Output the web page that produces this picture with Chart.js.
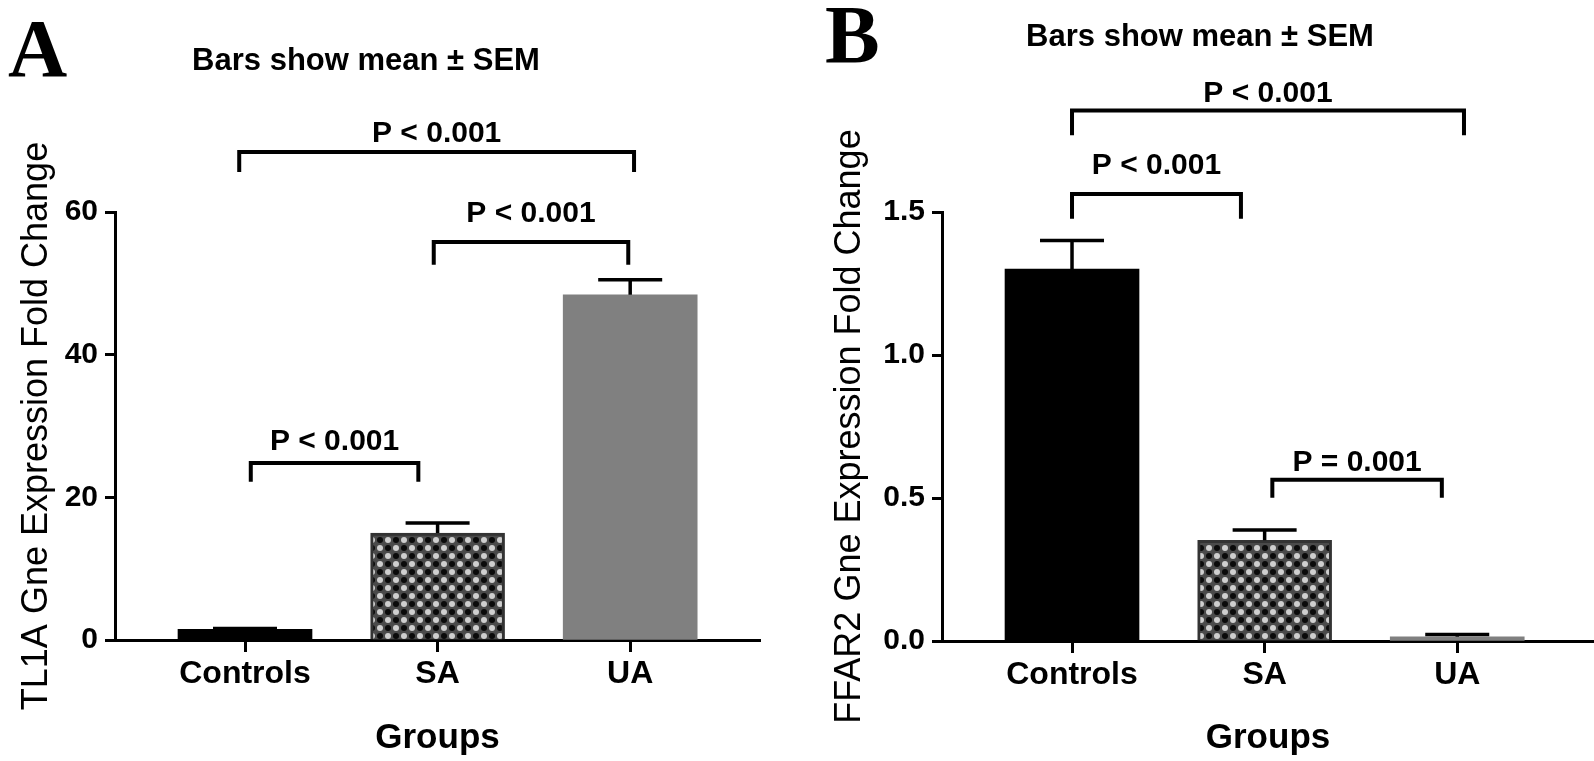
<!DOCTYPE html>
<html>
<head>
<meta charset="utf-8">
<script src="https://cdn.jsdelivr.net/npm/chart.js@4.4.1/dist/chart.umd.min.js"></script>
<style>
  html, body { margin: 0; padding: 0; background: #fff; }
  .wrap { position: relative; width: 1594px; height: 761px; }
  .panel { position: absolute; top: 0; width: 797px; height: 761px; }
  #panelA { left: 0; }
  #panelB { left: 797px; }
</style>
</head>
<body>
<div class="wrap">
  <div class="panel" id="panelA"><canvas id="chartA" width="797" height="761"></canvas></div>
  <div class="panel" id="panelB"><canvas id="chartB" width="797" height="761"></canvas></div>
</div>
<script>
// Two GraphPad-style bar panels (mean ± SEM) with significance brackets.
const groups = ['Controls', 'SA', 'UA'];

// Panel A: TL1A
const tl1aMean = [1.5, 15.0, 48.4];
const tl1aSem = [0.1, 1.4, 2.1];
const tl1aTicks = [0, 20, 40, 60];
// brackets, in group index / value units: ends, bar height, leg ends, label baseline
const tl1aBrFrom = [-0.03, 0.98, 0.03];
const tl1aBrTo = [2.02, 1.99, 0.90];
const tl1aBrTop = [68.4, 55.8, 24.8];
const tl1aBrLeg = [65.6, 52.6, 22.2];
const tl1aBrText = [69.8, 58.6, 26.6];
const tl1aBrLabel = ['P < 0.001', 'P < 0.001', 'P < 0.001'];

// Panel B: FFAR2
const ffar2Mean = [1.30, 0.352, 0.015];
const ffar2Sem = [0.10, 0.036, 0.008];
const ffar2Ticks = [0, 0.5, 1.0, 1.5];
const ffar2BrFrom = [0.0, 0.0, 1.04];
const ffar2BrTo = [2.035, 0.877, 1.92];
const ffar2BrTop = [1.855, 1.563, 0.564];
const ffar2BrLeg = [1.768, 1.476, 0.501];
const ffar2BrText = [1.883, 1.632, 0.595];
const ffar2BrLabel = ['P < 0.001', 'P < 0.001', 'P = 0.001'];

const SANS = "'Liberation Sans', Arial, sans-serif";
const SERIF = "'Liberation Serif', 'Times New Roman', serif";

// checkered fill of the SA bars: black and light dots on dark grey
function checker() {
  const c = document.createElement('canvas');
  c.width = c.height = 16;
  const g = c.getContext('2d');
  g.fillStyle = '#4a4a4a';
  g.fillRect(0, 0, 16, 16);
  const dot = (x, y, col) => { g.fillStyle = col; g.beginPath(); g.arc(x, y, 3, 0, Math.PI * 2); g.fill(); };
  dot(4, 4, '#0a0a0a'); dot(12, 12, '#0a0a0a');
  dot(12, 4, '#cfcfcf'); dot(4, 12, '#cfcfcf');
  return g.createPattern(c, 'repeat');
}

// error bars, brackets, panel letter and subtitle
const annotate = {
  id: 'annotate',
  afterDatasetsDraw(chart, args, o) {
    const { ctx } = chart;
    const xs = chart.scales.x, ys = chart.scales.y;
    ctx.save();
    ctx.strokeStyle = '#000';
    ctx.lineWidth = 3.5;
    o.mean.forEach((m, i) => {
      const x = xs.getPixelForValue(i);
      const yb = ys.getPixelForValue(m);
      const yt = ys.getPixelForValue(m + o.sem[i]);
      ctx.beginPath();
      ctx.moveTo(x, yb); ctx.lineTo(x, yt);
      ctx.moveTo(x - 32, yt); ctx.lineTo(x + 32, yt);
      ctx.stroke();
    });

    ctx.lineWidth = 4;
    ctx.lineJoin = 'miter';
    ctx.fillStyle = '#000';
    ctx.font = `bold 30px ${SANS}`;
    ctx.textAlign = 'center';
    ctx.textBaseline = 'alphabetic';
    o.brFrom.forEach((f, i) => {
      const x1 = xs.getPixelForValue(f), x2 = xs.getPixelForValue(o.brTo[i]);
      const yt = ys.getPixelForValue(o.brTop[i]), yl = ys.getPixelForValue(o.brLeg[i]);
      ctx.beginPath();
      ctx.moveTo(x1, yl); ctx.lineTo(x1, yt); ctx.lineTo(x2, yt); ctx.lineTo(x2, yl);
      ctx.stroke();
      ctx.fillText(o.brLabel[i], (x1 + x2) / 2, ys.getPixelForValue(o.brText[i]));
    });

    ctx.font = `bold 31px ${SANS}`;
    ctx.fillText('Bars show mean \u00b1 SEM', o.subX, o.subY);
    ctx.textAlign = 'left';
    ctx.font = `bold 82px ${SERIF}`;
    ctx.fillText(o.letter, o.letterX, o.letterY);
    ctx.restore();
  },
};

function makePanel(id, cfg) {
  return new Chart(document.getElementById(id), {
    type: 'bar',
    data: {
      datasets: [{
        data: cfg.mean.map((v, i) => ({ x: i, y: v })),
        backgroundColor: ['#000', checker(), '#808080'],
        borderColor: ['#000', '#333', '#808080'],
        borderWidth: [0, 3, 0],
        borderSkipped: 'bottom',
        barThickness: 134,
      }],
    },
    options: {
      responsive: false,
      animation: false,
      layout: { padding: { top: 212, right: cfg.padRight, left: 0, bottom: 0 } },
      plugins: {
        legend: { display: false },
        tooltip: { enabled: false },
        annotate: cfg,
      },
      scales: {
        x: {
          type: 'linear',
          offset: false,
          min: -0.675,
          max: cfg.xMax,
          afterBuildTicks: s => { s.ticks = groups.map((g, i) => ({ value: i })); },
          afterFit: s => { s.height = cfg.xHeight; },
          ticks: {
            callback: v => groups[v],
            font: { family: SANS, size: 32, weight: 'bold' },
            color: '#000',
            padding: 3,
            maxRotation: 0,
            autoSkip: false,
          },
          grid: { offset: false, drawOnChartArea: false, tickLength: 12, tickWidth: 3, tickColor: '#000' },
          border: { color: '#000', width: 3 },
          title: {
            display: true,
            text: 'Groups',
            color: '#000',
            font: { family: SANS, size: 35, weight: 'bold' },
            padding: { top: 0, bottom: 2 },
          },
        },
        y: {
          min: 0,
          max: cfg.ticks[cfg.ticks.length - 1],
          afterBuildTicks: s => { s.ticks = cfg.ticks.map(v => ({ value: v })); },
          afterFit: s => { s.width = cfg.yWidth; },
          ticks: {
            callback: cfg.fmt,
            font: { family: SANS, size: 30, weight: 'bold' },
            color: '#000',
            padding: 7,
          },
          grid: { drawOnChartArea: false, tickLength: 10, tickWidth: 3, tickColor: '#000' },
          border: { color: '#000', width: 3 },
          title: {
            display: true,
            text: cfg.yTitle,
            color: '#000',
            font: { family: SANS, size: 36 },
            padding: { top: cfg.titlePad, bottom: 0 },
          },
        },
      },
    },
    plugins: [annotate],
  });
}

makePanel('chartA', {
  mean: tl1aMean, sem: tl1aSem, ticks: tl1aTicks,
  brFrom: tl1aBrFrom, brTo: tl1aBrTo, brTop: tl1aBrTop, brLeg: tl1aBrLeg,
  brText: tl1aBrText, brLabel: tl1aBrLabel,
  fmt: v => String(v),
  yTitle: 'TL1A Gne Expression Fold Change',
  xMax: 2.674, padRight: 37, xHeight: 121, yWidth: 115, titlePad: 15,
  letter: 'A', letterX: 8, letterY: 76, subX: 366, subY: 70,
});

makePanel('chartB', {
  mean: ffar2Mean, sem: ffar2Sem, ticks: ffar2Ticks,
  brFrom: ffar2BrFrom, brTo: ffar2BrTo, brTop: ffar2BrTop, brLeg: ffar2BrLeg,
  brText: ffar2BrText, brLabel: ffar2BrLabel,
  fmt: v => v.toFixed(1),
  yTitle: 'FFAR2 Gne Expression Fold Change',
  xMax: 2.71, padRight: 0, xHeight: 120, yWidth: 145, titlePad: 31,
  letter: 'B', letterX: 28, letterY: 62, subX: 403, subY: 46,
});
</script>
</body>
</html>
